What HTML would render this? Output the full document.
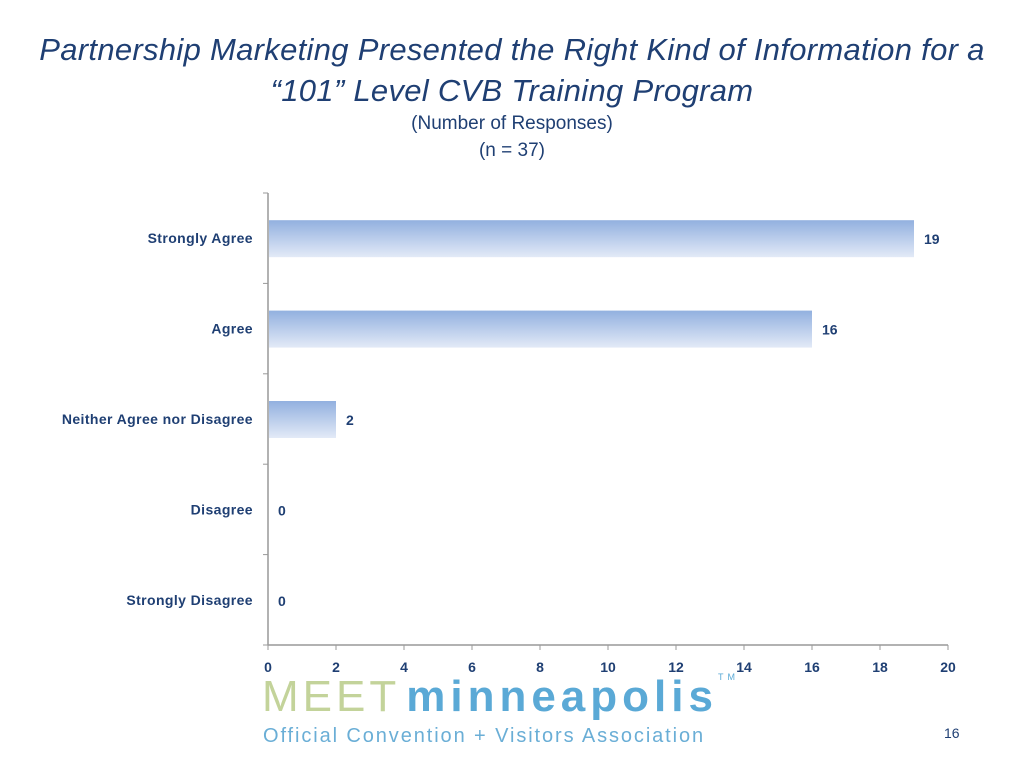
<!DOCTYPE html>
<html><head><meta charset="utf-8"><style>
body{margin:0;width:1024px;height:768px;background:#fff;position:relative;overflow:hidden;font-family:"Liberation Sans",sans-serif}
.t{position:absolute;left:0;width:1024px;text-align:center;color:#1f3f73}
</style></head><body>
<div class="t" style="top:29px;font-size:31px;font-style:italic;line-height:41px;letter-spacing:0.3px">Partnership Marketing Presented the Right Kind of Information for a<br>“101” Level CVB Training Program</div>
<div class="t" style="top:110px;font-size:19px;line-height:27px">(Number of Responses)<br>(n = 37)</div>
<svg id="c" width="1024" height="768" style="position:absolute;left:0;top:0">
<defs><linearGradient id="g" x1="0" y1="0" x2="0" y2="1"><stop offset="0" stop-color="#92b0df"/><stop offset="1" stop-color="#e3eaf7"/></linearGradient></defs>
</svg>
<div style="position:absolute;left:262px;top:672px;font-size:44px;letter-spacing:4px;white-space:nowrap"><span style="color:#c3d39a">MEET</span><span style="color:#5aa9d6;font-weight:bold;margin-left:6px;letter-spacing:5px">minneapolis</span><span style="color:#5aa9d6;font-size:9px;vertical-align:top">TM</span></div>
<div style="position:absolute;left:263px;top:725px;font-size:20px;color:#6aaed6;letter-spacing:1.9px">Official Convention + Visitors Association</div>
<div style="position:absolute;left:944px;top:725px;font-size:14px;color:#1f3f73">16</div>
<script>
const categories=["Strongly Agree","Agree","Neither Agree nor Disagree","Disagree","Strongly Disagree"];
const values=[19,16,2,0,0];
const ticks=[0,2,4,6,8,10,12,14,16,18,20];
const svg=document.getElementById('c');const NS="http://www.w3.org/2000/svg";
const x0=268,x1=948,yTop=193,yBot=645,band=(yBot-yTop)/categories.length;
const X=v=>x0+(v/20)*(x1-x0);
function mk(t,a,txt){const e=document.createElementNS(NS,t);for(const k in a)e.setAttribute(k,a[k]);if(txt!==undefined)e.textContent=txt;svg.appendChild(e);return e;}
const ax=mk('line',{x1:x0,y1:yTop,x2:x0,y2:yBot,stroke:'#999','stroke-width':1.5});

const bx=mk('line',{x1:x0,y1:yBot,x2:x1,y2:yBot,stroke:'#999','stroke-width':1.5});

for(let i=0;i<=categories.length;i++){mk('line',{x1:x0-5,y1:yTop+i*band,x2:x0,y2:yTop+i*band,stroke:'#999'});}
ticks.forEach(t=>{mk('line',{x1:X(t),y1:yBot,x2:X(t),y2:yBot+5,stroke:'#999'});
const l=mk('text',{x:X(t),y:yBot+27,'text-anchor':'middle','font-size':14,'font-weight':'bold',fill:'#1f3f73'},t);
});
categories.forEach((c,i)=>{const cy=yTop+i*band+band/2;
const l=mk('text',{x:253,y:cy+5,'text-anchor':'end','font-size':14,'font-weight':'bold',fill:'#1f3f73','letter-spacing':'0.4'},c);

if(values[i]>0){const r=mk('rect',{x:x0+1,y:cy-18,width:X(values[i])-x0-1,height:37,fill:'url(#g)'});
}
const v=mk('text',{x:X(values[i])+10,y:cy+6,'font-size':14,'font-weight':'bold',fill:'#1f3f73'},values[i]);
});
</script>
</body></html>
